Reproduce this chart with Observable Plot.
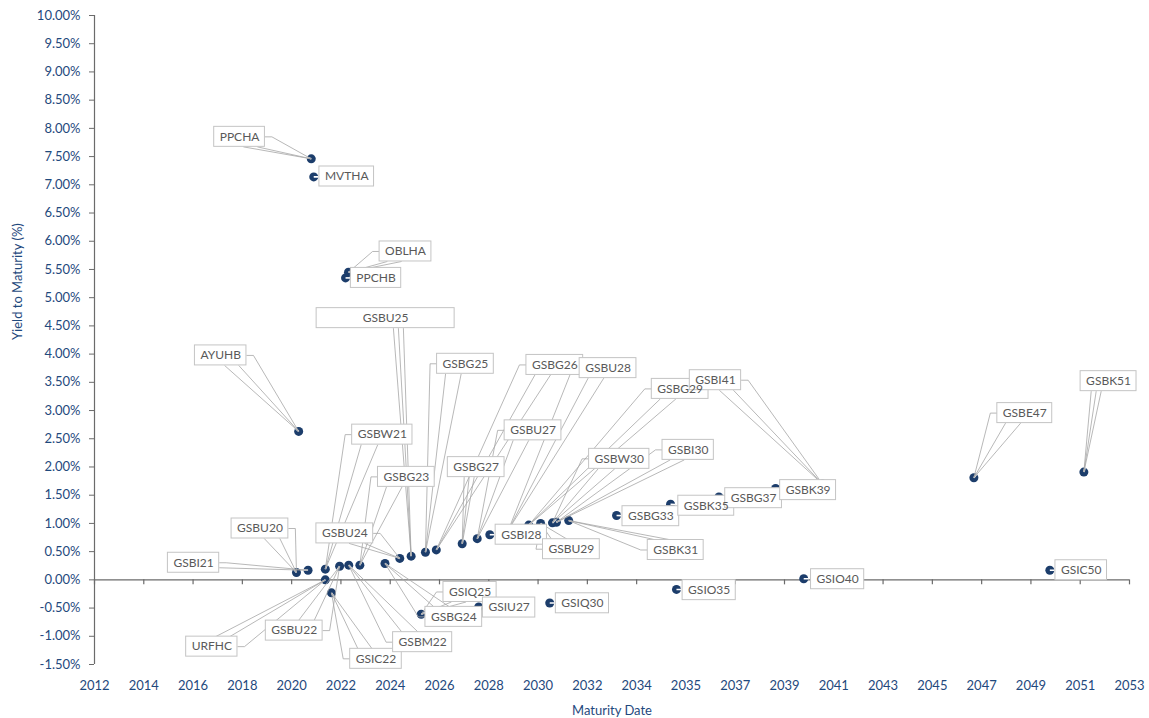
<!DOCTYPE html>
<html>
<head>
<meta charset="utf-8">
<script src="https://cdn.jsdelivr.net/npm/d3@7"></script>
<script src="https://cdn.jsdelivr.net/npm/@observablehq/plot@0.6"></script>
<style>
  html, body { margin: 0; padding: 0; background: #ffffff; }
  #chart { width: 1149px; height: 718px; }
</style>
</head>
<body>
<div id="chart"></div>
<script>
// ---------------- data ----------------
const bondNames = ["AYUHB","GSBU20","GSBI21","PPCHA","MVTHA","GSBW21","URFHC","GSIC22","GSBU22","PPCHB",
  "OBLHA","GSBM22","GSBG23","GSBG24","GSBU24","GSBU25","GSIQ25","GSBG25","GSBG26","GSBG27",
  "GSBU27","GSIU27","GSBI28","GSBU28","GSBG29","GSBU29","GSIQ30","GSBW30","GSBI30","GSBK31",
  "GSBG33","GSBK35","GSIO35","GSBG37","GSBK39","GSIO40","GSBI41","GSBE47","GSIC50","GSBK51"];
// maturity date (decimal year)
const maturity = [2020.28,2020.19,2020.66,2020.79,2020.89,2021.36,2021.36,2021.61,2021.94,2022.18,
  2022.30,2022.31,2022.76,2023.78,2024.38,2024.84,2025.25,2025.42,2025.86,2026.91,
  2027.52,2027.58,2028.03,2028.79,2029.61,2030.09,2030.46,2030.57,2030.73,2031.23,
  2033.17,2035.36,2035.60,2037.32,2039.62,2040.76,2041.52,2047.66,2050.74,2052.12];
// yield to maturity (%)
const ytm = [2.63,0.13,0.17,7.46,7.14,0.19,0.00,-0.23,0.24,5.35,
  5.45,0.26,0.26,0.29,0.38,0.42,-0.61,0.49,0.53,0.64,
  0.73,-0.48,0.80,0.89,0.97,1.00,-0.41,1.01,1.02,1.05,
  1.14,1.34,-0.17,1.47,1.62,0.02,1.70,1.81,0.17,1.91];
// x-axis tick labels (Excel date axis, ~730-day major unit)
const xTickLabels = ["2012","2014","2016","2018","2020","2022","2024","2026","2028","2030","2032",
  "2034","2035","2037","2039","2041","2043","2045","2047","2049","2051","2053"];

// ---------------- layout (label placement, px offsets from the point) ----------------
const labelOffsets = [[-78,-76],[-36.5,-44],[-114.5,-7.5],[-71.7,-22],[33,-0.4],[57,-134.5],[-113.5,66.8],[44.5,66],[-45.4,64.3],[30.5,0],
  [57,-20.8],[73.9,77],[46.5,-88.3],[68.8,53.4],[-55,-25],[-25.5,-238],[48.8,-22.3],[40,-188.4],[118.5,-185],[14,-76.6],
  [55.8,-108.3],[30.4,0.6],[31.5,0],[99.5,-161.5],[151.4,-136.2],[30.8,25.8],[32.7,0.3],[66.8,-64],[131.8,-72.4],[107,29.4],
  [34.3,0.7],[35.7,1.5],[32.7,0.7],[34.7,1.3],[32.5,1.7],[33.9,0.5],[-107,-103.7],[50.9,-64.6],[31.4,0],[24.7,-90.9]];
const boxWidthOverride = {GSBU25: 138};

const W = 1149, H = 718;
const M = {left: 94, right: 20, top: 15, bottom: 54};
const xStep = 1.9986;
const xTicks = xTickLabels.map((_, i) => 2012 + i * xStep);
const xDomain = [xTicks[0], xTicks[xTicks.length - 1]];
const yDomain = [-1.5, 10];
const yTicks = d3.range(-1.5, 10.001, 0.5);

const sx = d3.scaleLinear(xDomain, [M.left, W - M.right]);
const sy = d3.scaleLinear(yDomain, [H - M.bottom, M.top]);

const bonds = bondNames.map((name, i) => ({name, date: maturity[i], ytm: ytm[i]}));

const ctx = document.createElement("canvas").getContext("2d");
ctx.font = "12px Lato";

const boxes = [], leaders = [], notches = [];
const hh = 10;
bonds.forEach((b, i) => {
  const px = sx(b.date), py = sy(b.ytm);
  const [dx, dy] = labelOffsets[i];
  const cx = px + dx, cy = py + dy;
  const w = boxWidthOverride[b.name] || (ctx.measureText(b.name).width + 11);
  const hw = w / 2;
  boxes.push({name: b.name, x1: sx.invert(cx - hw), x2: sx.invert(cx + hw), y1: sy.invert(cy - hh), y2: sy.invert(cy + hh), x: sx.invert(cx), y: sy.invert(cy)});
  // white notch toward label
  const ang = Math.atan2(cy - py, cx - px);
  notches.push({x1: b.date, y1: b.ytm, x2: sx.invert(px + Math.cos(ang) * 5), y2: sy.invert(py + Math.sin(ang) * 5)});
  const gapX = Math.abs(px - cx) - hw, gapY = Math.abs(py - cy) - hh;
  if (Math.max(gapX, gapY) < 12) return;
  const dirx = Math.sign(px - cx) || 1, diry = Math.sign(py - cy) || 1;
  const segs = [];
  const sideX = cx + dirx * hw;
  if (gapX > 0) {
    segs.push([sideX, cy, sideX + dirx * 7, cy]);
    segs.push([sideX + dirx * 7, cy, px, py]);
  }
  if (gapY > 0) {
    if (gapX > 0) {
      segs.push([cx + dirx * hw * 0.15, cy + diry * hh, px, py]);
      segs.push([cx + dirx * hw * 0.7, cy + diry * hh, px, py]);
    } else {
      const bx = Math.max(cx - hw * 0.8, Math.min(cx + hw * 0.8, (px + cx) / 2));
      segs.push([bx - 5, cy + diry * hh, px, py]);
      segs.push([bx + 5, cy + diry * hh, px, py]);
      segs.push([bx, cy + diry * hh, px, py]);
    }
  } else {
    segs.push([sideX, cy + diry * hh * 0.5, px, py]);
  }
  segs.forEach(s => leaders.push({x1: sx.invert(s[0]), y1: sy.invert(s[1]), x2: sx.invert(s[2]), y2: sy.invert(s[3])}));
});

const yPerPx = (yDomain[1] - yDomain[0]) / (H - M.top - M.bottom);
const axisColor = "#1f497d";
const lineColor = "#6b6b6b";

const chart = Plot.plot({
  width: W, height: H,
  marginLeft: M.left, marginRight: M.right, marginTop: M.top, marginBottom: M.bottom,
  style: {fontFamily: "Lato, 'Open Sans', sans-serif", background: "#ffffff", overflow: "visible"},
  x: {type: "linear", domain: xDomain},
  y: {type: "linear", domain: yDomain},
  marks: [
    Plot.axisY({ticks: yTicks, tickFormat: d => d.toFixed(2) + "%", tickSize: 5, tickPadding: 9,
      stroke: lineColor, fill: axisColor, fontSize: 13, label: null}),
    Plot.axisX({ticks: xTicks, tickFormat: d => xTickLabels[xTicks.indexOf(d)], tickSize: 0, tickPadding: 16,
      fill: axisColor, fontSize: 13, label: null}),
    Plot.ruleX([xDomain[0]], {stroke: lineColor, strokeWidth: 1.2}),
    Plot.ruleY([0], {stroke: lineColor, strokeWidth: 1.2}),
    Plot.ruleX(xTicks, {x: d => d, y1: 0, y2: -5 * yPerPx, stroke: lineColor, strokeWidth: 1.2}),
    Plot.text(["Maturity Date"], {frameAnchor: "bottom", dy: 50, fill: axisColor, fontSize: 13}),
    Plot.text(["Yield to Maturity (%)"], {frameAnchor: "left", rotate: -90, dx: -77, fill: axisColor, fontSize: 13}),
    Plot.dot(bonds, {x: "date", y: "ytm", r: 4.5, fill: "#1c3d6b", stroke: "none"}),
    Plot.link(notches, {x1: "x1", y1: "y1", x2: "x2", y2: "y2", stroke: "#ffffff", strokeWidth: 1.6}),
    Plot.link(leaders, {x1: "x1", y1: "y1", x2: "x2", y2: "y2", stroke: "#a6a6a6", strokeWidth: 0.8}),
    Plot.rect(boxes, {x1: "x1", x2: "x2", y1: "y1", y2: "y2", fill: "#ffffff", stroke: "#c4c4c4", strokeWidth: 1}),
    Plot.text(boxes, {x: "x", y: "y", text: "name", fill: "#595959", fontSize: 12})
  ]
});
document.getElementById("chart").appendChild(chart);
</script>
</body>
</html>
